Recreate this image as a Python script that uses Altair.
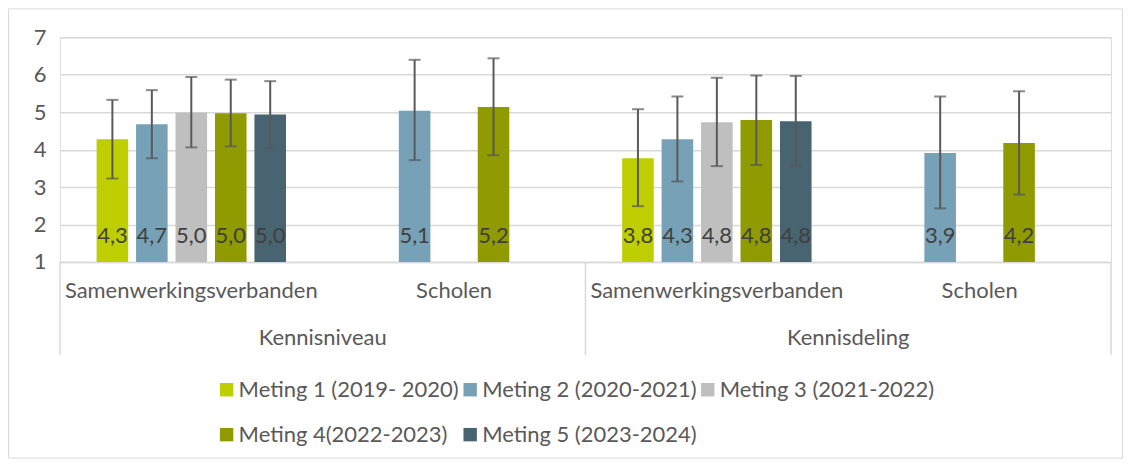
import altair as alt
import pandas as pd

# ---- data ----
groups = ["Kennisniveau"] * 7 + ["Kennisdeling"] * 7
subcats = (["Samenwerkingsverbanden"] * 5 + ["Scholen"] * 2) * 2
meting_names = ["Meting 1 (2019- 2020)", "Meting 2 (2020-2021)", "Meting 3 (2021-2022)",
                "Meting 4(2022-2023)", "Meting 5 (2023-2024)"]
metings = [meting_names[i] for i in [0, 1, 2, 3, 4, 1, 3, 0, 1, 2, 3, 4, 1, 3]]
means = [4.28, 4.68, 4.99, 4.97, 4.94, 5.04, 5.14,
         3.77, 4.28, 4.73, 4.79, 4.76, 3.91, 4.18]
lows = [3.23, 3.77, 4.06, 4.09, 4.04, 3.72, 3.85,
        2.49, 3.15, 3.56, 3.59, 3.56, 2.43, 2.80]
highs = [5.33, 5.59, 5.94, 5.87, 5.83, 6.40, 6.44,
         5.08, 5.42, 5.92, 5.98, 5.97, 5.42, 5.56]
labels = ["4,3", "4,7", "5,0", "5,0", "5,0", "5,1", "5,2",
          "3,8", "4,3", "4,8", "4,8", "4,8", "3,9", "4,2"]
y_ticks = [1, 2, 3, 4, 5, 6, 7]
y_min = 1
colors = ["#BFCE00", "#77A1B6", "#BFBFBF", "#8F9B00", "#476470"]
group_order = ["Kennisniveau", "Kennisdeling"]
sub_order = ["Samenwerkingsverbanden", "Scholen"]
key_order = [g + "|" + s for g in group_order for s in sub_order]

df = pd.DataFrame({
    "group": groups, "sub": subcats, "meting": metings,
    "mean": means, "lo": lows, "hi": highs, "label": labels,
})
df["key"] = df["group"] + "|" + df["sub"]
df["base"] = y_min

FONT = "Lato"
FS = 22
W, H = 1053, 225
GRID = "#D9D9D9"
TXT = "#595959"

xaxis = alt.Axis(title=None, labelAngle=0, ticks=False, domain=True,
                 domainColor=GRID, domainWidth=1.5,
                 labelExpr="split(datum.value, '|')[1]", labelLimit=500,
                 labelFontSize=FS, labelColor=TXT, labelFont=FONT,
                 labelPadding=19, grid=False)
xscale = alt.Scale(domain=key_order, paddingInner=0, paddingOuter=0)
yaxis = alt.Axis(title=None, values=y_ticks, tickCount=7, domain=False, ticks=False,
                 labelOverlap=False, gridColor=GRID, gridWidth=1.5, labelFontSize=FS,
                 labelColor=TXT, labelFont=FONT, labelPadding=14)
yscale = alt.Scale(domain=[1, 7], zero=False, nice=False)


def X(**kw):
    return alt.X("key:N", sort=key_order, scale=xscale, axis=xaxis, **kw)


def Y(field):
    return alt.Y(field, type="quantitative", scale=yscale, axis=yaxis)


xoff = alt.XOffset("meting:N", sort=meting_names,
                   scale=alt.Scale(domain=meting_names, paddingInner=0.2, paddingOuter=0.93))

base = alt.Chart(df)

bars = base.mark_bar().encode(
    x=X(),
    xOffset=xoff,
    y=Y("mean"),
    y2="base:Q",
    color=alt.Color("meting:N", sort=meting_names,
                    scale=alt.Scale(domain=meting_names, range=colors),
                    legend=alt.Legend(title=None, orient="none", legendX=156, legendY=342,
                                      direction="horizontal", columns=3,
                                      symbolType="square", symbolSize=180,
                                      symbolStrokeWidth=0, labelFontSize=FS, labelColor=TXT,
                                      labelFont=FONT, labelLimit=500, columnPadding=-52,
                                      rowPadding=23, labelOffset=1)),
)

err = base.mark_rule(color="#595959", strokeWidth=2).encode(
    x=X(), xOffset=xoff, y=Y("lo"), y2="hi:Q")

caps_hi = base.mark_tick(color="#595959", thickness=2, size=12).encode(
    x=X(), xOffset=xoff, y=Y("hi"))
caps_lo = base.mark_tick(color="#595959", thickness=2, size=12).encode(
    x=X(), xOffset=xoff, y=Y("lo"))

vals = base.mark_text(fontSize=FS, color="#404040", font=FONT, baseline="bottom", dy=-14).encode(
    x=X(), xOffset=xoff, y=Y("base"), text="label:N")

# separators of the two-level category axis
sep_left = pd.DataFrame({"key": [key_order[0], key_order[2]]})
sep_right = pd.DataFrame({"key": [key_order[3]]})
seps_l = alt.Chart(sep_left).mark_rule(color=GRID, strokeWidth=1.5).encode(
    x=X(bandPosition=0), y=alt.value(H), y2=alt.value(H + 93))
seps_r = alt.Chart(sep_right).mark_rule(color=GRID, strokeWidth=1.5).encode(
    x=X(bandPosition=1), y=alt.value(H), y2=alt.value(H + 93))

grp = pd.DataFrame({"key": [key_order[0], key_order[2]], "name": group_order})
grp_labels = alt.Chart(grp).mark_text(fontSize=FS, color=TXT, font=FONT, baseline="middle").encode(
    x=X(bandPosition=1), y=alt.value(H + 76), text="name:N")

frame = alt.Chart(pd.DataFrame({"a": [0]})).mark_rect(filled=False, stroke=GRID, strokeWidth=1).encode(
    x=alt.value(-51.5), x2=alt.value(1064.5), y=alt.value(-28.5), y2=alt.value(421.5))

chart = alt.layer(bars, err, caps_hi, caps_lo, vals, seps_l, seps_r, grp_labels, frame).properties(
    width=W, height=H,
    autosize=alt.AutoSizeParams(type="none"),
    padding={"left": 52, "top": 29, "right": 12, "bottom": 197},
).configure_view(strokeWidth=0).configure(font=FONT)

chart.save("out.html", embed_options={"renderer": "svg", "actions": False})
